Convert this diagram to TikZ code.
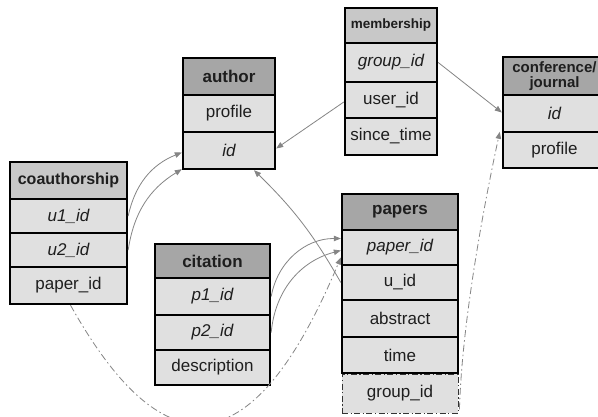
\documentclass[tikz,border=0pt]{standalone}
\usepackage{fontspec}
\setmainfont{Liberation Sans}
\usetikzlibrary{arrows.meta,calc}
\definecolor{hdark}{HTML}{A6A6A6}
\definecolor{hlight}{HTML}{C8C8C8}
\definecolor{cellc}{HTML}{E0E0E0}
\definecolor{txt}{HTML}{1E1E1E}
\definecolor{conn}{HTML}{858585}
\tikzset{
  cell/.style={draw=black, line width=2.4pt, fill=cellc, text=txt, inner sep=0pt,
    font=\fontsize{17}{19}\selectfont},
  hdr/.style={cell, fill=hdark, font=\fontsize{17}{19}\selectfont\bfseries},
  hdrl/.style={cell, fill=hlight, font=\fontsize{16}{18}\selectfont\bfseries},
  dcell/.style={cell, line width=0.9pt, draw=black!80, dash pattern=on 6pt off 2.5pt on 1.2pt off 2.5pt},
  conn/.style={draw=conn, line width=0.8pt, -{Triangle[length=7pt,width=5.5pt]}},
  dconn/.style={conn, dash pattern=on 7pt off 3pt on 1.5pt off 3pt},
}
\begin{document}
\begin{tikzpicture}[x=1pt,y=-1pt]
\useasboundingbox (0,0) rectangle (598,417);
\clip (0,0) rectangle (598,417);
\fill[white] (0,0) rectangle (598,417);

% coauthorship
\node[hdrl, minimum width=117pt, minimum height=37pt] (co_h) at (68.5,180.5) {coauthorship};
\node[cell, minimum width=117pt, minimum height=34pt] (co_u1) at (68.5,216) {\itshape u1\_id};
\node[cell, minimum width=117pt, minimum height=34pt] (co_u2) at (68.5,250) {\itshape u2\_id};
\node[cell, minimum width=117pt, minimum height=37pt] (co_pap) at (68.5,285.5) {paper\_id};

% author
\node[hdr, minimum width=92pt, minimum height=37pt] (au_h) at (229,76.5) {author};
\node[cell, minimum width=92pt, minimum height=37pt] (au_prof) at (229,113.5) {profile};
\node[cell, minimum width=92pt, minimum height=37pt] (au_id) at (229,150.5) {\itshape id};

% membership
\node[hdrl, minimum width=92pt, minimum height=35pt, font=\fontsize{13.5}{15}\selectfont\bfseries] (ms_h) at (391,25.5) {membership};
\node[cell, minimum width=92pt, minimum height=39pt] (ms_grp) at (391,62.5) {\itshape group\_id};
\node[cell, minimum width=92pt, minimum height=36pt] (ms_user) at (391,100) {user\_id};
\node[cell, minimum width=92pt, minimum height=37pt] (ms_since) at (391,136.5) {since\_time};

% conference/journal
\node[hdr, minimum width=103pt, minimum height=38pt, align=center,
  font=\fontsize{15}{14.5}\selectfont\bfseries] (cj_h) at (554.5,76) {conference/\\journal};
\node[cell, minimum width=103pt, minimum height=37pt] (cj_id) at (554.5,113.5) {\itshape id};
\node[cell, minimum width=103pt, minimum height=36pt] (cj_prof) at (554.5,150) {profile};

% citation
\node[hdr, minimum width=115pt, minimum height=34pt] (ci_h) at (212.5,261) {citation};
\node[cell, minimum width=115pt, minimum height=37pt] (ci_p1) at (212.5,296.5) {\itshape p1\_id};
\node[cell, minimum width=115pt, minimum height=35pt] (ci_p2) at (212.5,332.5) {\itshape p2\_id};
\node[cell, minimum width=115pt, minimum height=35pt] (ci_desc) at (212.5,367.5) {description};

% papers
\node[hdr, minimum width=116pt, minimum height=36pt] (pa_h) at (400,212) {papers};
\node[cell, minimum width=116pt, minimum height=35pt] (pa_pid) at (400,247.5) {\itshape paper\_id};
\node[cell, minimum width=116pt, minimum height=35pt] (pa_uid) at (400,282.5) {u\_id};
\node[cell, minimum width=116pt, minimum height=37pt] (pa_abs) at (400,318.5) {abstract};
\node[cell, minimum width=116pt, minimum height=36pt] (pa_time) at (400,355) {time};
\node[dcell, minimum width=116pt, minimum height=39pt] (pa_grp) at (400,393.5) {group\_id};

% connectors
\draw[conn] (co_u1.east) to[bend left=28] ($(au_id.west)+(0,2)$);
\draw[conn] (co_u2.east) to[bend left=25] ($(au_id.south west)+(0,-1)$);
\draw[conn] ($(ms_user.west)+(0,2)$) -- ($(au_id.east)+(0,-2)$);
\draw[conn] (ms_grp.east) -- ($(cj_id.west)+(0,-1)$);
\draw[conn] (pa_uid.west) to[bend right=8] ($(au_id.south)+(25,0)$);
\draw[conn] (ci_p1.east) to[bend left=40] ($(pa_pid.west)+(0,-9)$);
\draw[conn] (ci_p2.east) to[bend left=35] ($(pa_pid.west)+(0,3)$);
\coordinate (dstart) at ($(co_pap.south)+(2,0)$);
\draw[dconn] (dstart) .. controls (160,465) and (250,475) .. ($(pa_pid.west)+(0,10)$);
\coordinate (gstart) at ($(pa_grp.south east)+(1,-4)$);
\draw[dconn] (gstart) .. controls (462,320) and (485,200) .. ($(cj_prof.north west)+(-2,1)$);
\end{tikzpicture}
\end{document}
